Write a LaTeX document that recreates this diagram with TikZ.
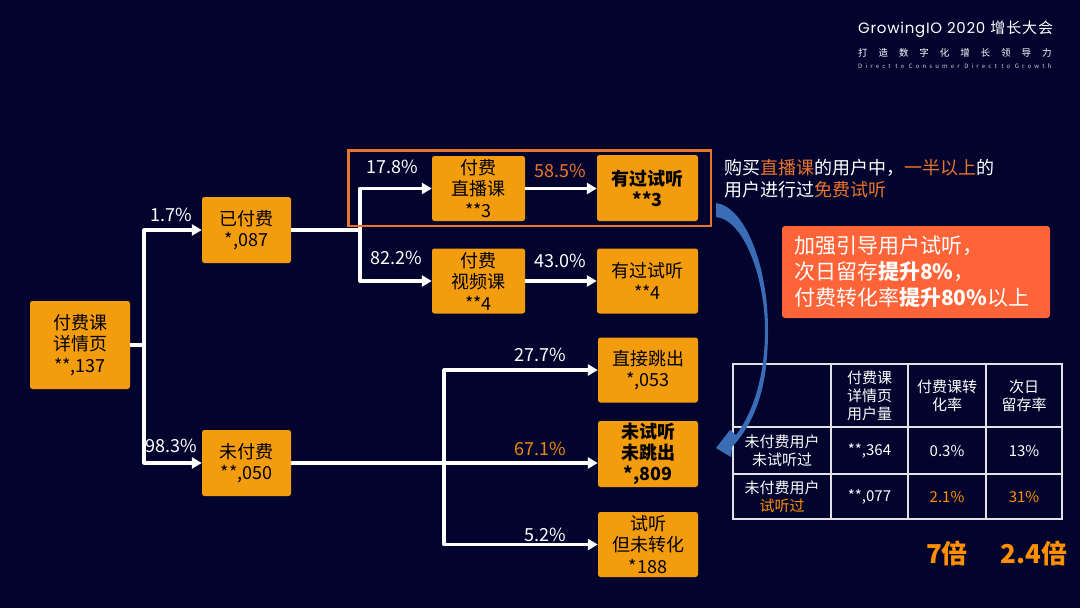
\documentclass[tikz,border=0pt]{standalone}
\usepackage{fontspec}
\setmainfont{Noto Sans CJK SC}
\newfontfamily\logop[LetterSpace=5]{Poppins}
\newfontfamily\logoa[LetterSpace=6]{Noto Sans CJK SC}
\newfontfamily\logob[LetterSpace=115]{Noto Sans CJK SC}
\newfontfamily\logoc[LetterSpace=53]{Noto Sans CJK SC}
\usetikzlibrary{arrows.meta}
\definecolor{bgc}{HTML}{03042E}
\definecolor{boxc}{HTML}{F39C0E}
\definecolor{framec}{HTML}{E9742B}
\definecolor{hlc}{HTML}{E8890C}
\definecolor{calloutc}{HTML}{FF6338}
\definecolor{tabc}{HTML}{FF9000}
\definecolor{bluec}{HTML}{3A6DB5}
\tikzset{
  x=1pt,y=-1pt,
  flow/.style={rectangle,rounded corners=2.5pt,fill=boxc,text=black,align=center,inner sep=0pt,font=\fontsize{18}{21.5}\selectfont},
  line/.style={draw=white,line width=3.2pt,line join=round},
  arr/.style={line,-{Triangle[width=11pt,length=10pt]}},
  pct/.style={text=white,inner sep=0pt,font=\fontsize{18}{21}\selectfont},
  pcth/.style={pct,text=framec},
  side/.style={text=white,align=left,inner sep=0pt,anchor=west,font=\fontsize{18}{22}\selectfont},
  cell/.style={text=white,align=center,inner sep=0pt,font=\fontsize{15}{18}\selectfont},
}
\begin{document}
\begin{tikzpicture}
\fill[bgc] (0,0) rectangle (1080,608);
\useasboundingbox (0,0) rectangle (1080,608);
% logo
\node[text=white,inner sep=0pt,anchor=west,font=\fontsize{15}{16}\logoa] (lg1) at (858,29) {{\logop GrowingIO 2020}\hspace{5pt}增长大会};
\node[text=white,inner sep=0pt,anchor=west,font=\fontsize{9.5}{11}\logob] (lg2) at (858,53) {打造数字化增长领导力};
\node[text=white!80!bgc,inner sep=0pt,anchor=west,font=\fontsize{6}{7}\logoc] (lg3) at (858,66.5) {Direct to Consumer Direct to Growth};
% nodes
\node[flow,minimum width=100pt,minimum height=88pt] (root) at (80,345) {付费课\\详情页\\**,137};
\node[flow,minimum width=89pt,minimum height=66pt] (paid) at (246.5,230) {已付费\\*,087};
\node[flow,minimum width=89pt,minimum height=66pt] (unpaid) at (246.5,463) {未付费\\**,050};
\node[flow,minimum width=93pt,minimum height=65pt] (live) at (478.5,188.5) {付费\\直播课\\**3};
\node[flow,minimum width=101pt,minimum height=66pt,font=\fontsize{18}{21}\selectfont\bfseries] (tried1) at (647.5,188) {有过试听\\**3};
\node[flow,minimum width=93pt,minimum height=65pt] (video) at (478.5,281) {付费\\视频课\\**4};
\node[flow,minimum width=101pt,minimum height=65pt] (tried2) at (647.5,281) {有过试听\\**4};
\node[flow,minimum width=100pt,minimum height=65pt] (bounce) at (648,370) {直接跳出\\*,053};
\node[flow,minimum width=100pt,minimum height=66pt,font=\fontsize{18}{21}\selectfont\bfseries] (nottry) at (648,454) {未试听\\未跳出\\*,809};
\node[flow,minimum width=100pt,minimum height=65pt] (trynot) at (648,544.5) {试听\\但未转化\\*188};
% junctions
\coordinate (j1) at (144,345);
\coordinate (j2) at (360,230);
\coordinate (j3) at (444,463);
% connectors
\draw[line] (root.east |- j1) -- (j1);
\draw[arr] (j1) |- (paid.west);
\draw[arr] (j1) |- (unpaid.west);
\draw[line] (paid.east) -- (j2);
\draw[arr] (j2) |- (live.west);
\draw[arr] (j2) |- (video.west);
\draw[arr] (live.east) -- (tried1.west |- live.east);
\draw[arr] (video.east) -- (tried2.west |- video.east);
\draw[line] (unpaid.east) -- (j3);
\draw[arr] (j3) -- (nottry.west |- j3);
\draw[arr] (j3) |- (bounce.west);
\draw[arr] (j3) |- (trynot.west);
% frame
\draw[framec,line width=2.4pt] (348.5,150.5) rectangle (711,226);
% labels
\node[pct] (p1) at (171,215) {1.7\%};
\node[pct] (p2) at (171,446) {98.3\%};
\node[pct] (p3) at (392,167) {17.8\%};
\node[pct] (p4) at (396,258) {82.2\%};
\node[pcth] (p5) at (560.5,171) {58.5\%};
\node[pct] (p6) at (560.5,261) {43.0\%};
\node[pct] (p7) at (540,355) {27.7\%};
\node[pct,text=hlc] (p8) at (540,449) {67.1\%};
\node[pct] (p9) at (545,535) {5.2\%};
% side text
\node[side] (s1) at (724,179) {购买\textcolor{framec}{直播课}的用户中，\textcolor{framec}{一半以上}的\\用户进行过\textcolor{framec}{免费试听}};
% callout
\node[rectangle,rounded corners=3pt,fill=calloutc,minimum width=268pt,minimum height=92pt] (c0) at (916,272) {};
\node[text=white,align=left,inner sep=0pt,anchor=west,font=\fontsize{21}{26}\selectfont] (c1) at (794,272) {加强引导用户试听，\\次日留存\textbf{提升8\%}，\\付费转化率\textbf{提升80\%}以上};
% table
\draw[white!88!bgc,line width=1.3pt] (733,364) rectangle (1062,519)
  (831,364) -- (831,519) (908,364) -- (908,519) (986,364) -- (986,519)
  (733,427) -- (1062,427) (733,474) -- (1062,474);
\node[cell] (t1) at (869.5,395.5) {付费课\\详情页\\用户量};
\node[cell] (t2) at (947,395.5) {付费课转\\化率};
\node[cell] (t3) at (1024,395.5) {次日\\留存率};
\node[cell] (t4) at (782,450.5) {未付费用户\\未试听过};
\node[cell] (t5) at (869.5,450.5) {**,364};
\node[cell] (t6) at (947,450.5) {0.3\%};
\node[cell] (t7) at (1024,450.5) {13\%};
\node[cell] (t8) at (782,497) {未付费用户\\\textcolor{tabc}{试听过}};
\node[cell] (t9) at (869.5,497) {**,077};
\node[cell,text=tabc] (t10) at (947,497) {2.1\%};
\node[cell,text=tabc] (t11) at (1024,497) {31\%};
\node[text=tabc,inner sep=0pt,font=\fontsize{26}{30}\selectfont\bfseries] (b1) at (947,553) {7倍};
\node[text=tabc,inner sep=0pt,font=\fontsize{26}{30}\selectfont\bfseries] (b2) at (1034,553) {2.4倍};
% curved arrow
\fill[bluec] (716,203) .. controls (745,207) and (768,265) .. (768,330)
  .. controls (768,372) and (762,415) .. (732,447)
  -- (731,457) -- (716,448) -- (730,430) -- (736,435)
  .. controls (755,410) and (765,372) .. (765,330)
  .. controls (765,280) and (745,220) .. (716,217) -- cycle;
\end{tikzpicture}
\end{document}
